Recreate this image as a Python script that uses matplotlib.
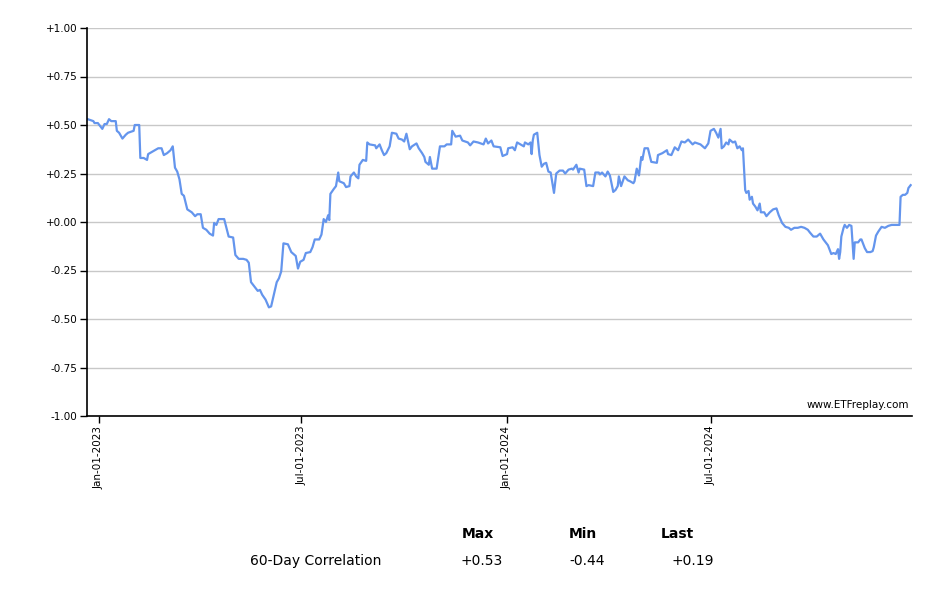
import matplotlib
matplotlib.use("Agg")
import matplotlib.pyplot as plt
import matplotlib.dates as mdates
import pandas as pd
import numpy as np

# ---- data (day offsets from 2023-01-01, 60-day correlation) ----
day_offsets = [
    -10, -5, -4, -1, 3, 5, 7, 9, 11, 15, 16, 18, 21, 24, 26, 31, 32, 36, 37, 40,
    43, 44, 47, 50, 53, 56, 58, 61, 64, 66, 68, 70, 72, 74, 76, 79, 83, 86, 88, 91,
    93, 96, 99, 102, 103, 105, 107, 110, 112, 116, 120, 122, 125, 129, 132, 134, 136, 140, 142, 144,
    146, 149, 152, 154, 156, 159, 161, 163, 165, 169, 172, 176, 178, 180,
    183, 185, 189, 191, 193, 197, 199, 201, 203, 205, 206, 207, 210, 212, 214, 215, 219, 221, 224, 225,
    228, 230, 232, 233, 236, 239, 240, 242, 247, 248, 251, 253, 255, 257, 260, 262, 266, 268, 271, 273,
    275, 278, 280, 284, 286, 289, 291, 292, 295, 296, 298, 302, 305, 309, 311, 315, 316, 319, 323, 325,
    330, 332, 335, 339, 344, 346, 348, 351, 353, 359,
    361, 365, 366, 370, 372, 374, 377, 380, 381, 384, 386, 387, 388, 389, 392, 394, 396, 398, 400, 402,
    404, 407, 409, 412, 415, 417, 420, 423, 424, 427, 429, 430, 434, 436, 438, 442, 444, 447, 448, 450,
    453, 455, 457, 460, 462, 464, 465, 467, 470, 473, 475, 478, 479, 481, 483, 485, 486, 488, 491, 494,
    499, 500, 504, 508, 509, 512, 515, 518, 521, 524, 527, 531, 533, 538, 542, 545, 547, 550, 552, 554,
    556, 557, 559, 561, 563, 564, 567, 569, 571, 573, 575, 576, 578, 579, 581, 582, 584, 585, 587, 589,
    591, 592, 595, 597, 600, 603, 606, 608, 611, 614, 617, 619, 622, 625, 628, 631, 634, 636, 639, 642,
    645, 648, 650, 652, 655, 657, 659, 661, 662, 663, 664, 666, 667, 669, 671, 673, 675, 676, 679, 681,
    682, 685, 687, 690, 692, 693, 695, 697, 700, 703, 706, 709, 712, 715, 716, 717, 719, 721, 723, 724,
    726,
]
correlation = [
    0.53, 0.52, 0.51, 0.51, 0.48, 0.505, 0.505, 0.53, 0.52, 0.52, 0.47, 0.46, 0.43, 0.45, 0.46, 0.47, 0.50, 0.50, 0.33, 0.33,
    0.32, 0.35, 0.36, 0.37, 0.38, 0.38, 0.345, 0.355, 0.37, 0.39, 0.28, 0.26, 0.22, 0.145, 0.135, 0.065, 0.05, 0.03, 0.04, 0.04,
    -0.03, -0.04, -0.06, -0.07, -0.005, -0.015, 0.015, 0.015, 0.015, -0.075, -0.08, -0.17, -0.19, -0.19, -0.195, -0.21, -0.31, -0.34, -0.355, -0.35,
    -0.375, -0.40, -0.44, -0.435, -0.385, -0.31, -0.29, -0.255, -0.11, -0.115, -0.155, -0.175, -0.24, -0.205,
    -0.195, -0.16, -0.155, -0.13, -0.09, -0.09, -0.065, 0.015, 0.0, 0.035, 0.01, 0.145, 0.17, 0.185, 0.255, 0.21, 0.20, 0.18, 0.185, 0.235,
    0.255, 0.235, 0.225, 0.295, 0.32, 0.315, 0.41, 0.40, 0.395, 0.38, 0.40, 0.37, 0.345, 0.355, 0.39, 0.46, 0.455, 0.43, 0.425, 0.415,
    0.455, 0.375, 0.39, 0.405, 0.38, 0.355, 0.335, 0.31, 0.295, 0.335, 0.275, 0.275, 0.39, 0.39, 0.40, 0.40, 0.47, 0.44, 0.445, 0.42,
    0.41, 0.395, 0.415, 0.41, 0.40, 0.43, 0.405, 0.42, 0.39, 0.385,
    0.34, 0.35, 0.38, 0.385, 0.37, 0.41, 0.40, 0.39, 0.41, 0.40, 0.41, 0.35, 0.42, 0.45, 0.46, 0.345, 0.285, 0.30, 0.305, 0.26,
    0.255, 0.15, 0.25, 0.265, 0.265, 0.25, 0.27, 0.275, 0.27, 0.295, 0.255, 0.275, 0.27, 0.185, 0.19, 0.185, 0.255, 0.255, 0.245, 0.255,
    0.235, 0.26, 0.24, 0.155, 0.165, 0.185, 0.235, 0.185, 0.235, 0.215, 0.21, 0.20, 0.21, 0.275, 0.24, 0.335, 0.32, 0.38, 0.38, 0.31,
    0.305, 0.345, 0.355, 0.37, 0.35, 0.345, 0.385, 0.37, 0.415, 0.41, 0.425, 0.40, 0.41, 0.40, 0.38, 0.405, 0.47, 0.48, 0.46, 0.435,
    0.48, 0.38, 0.39, 0.41, 0.40, 0.425, 0.41, 0.415, 0.38, 0.39, 0.37, 0.38, 0.165, 0.15, 0.16, 0.115, 0.13, 0.095, 0.08, 0.06,
    0.095, 0.05, 0.05, 0.03, 0.05, 0.065, 0.07, 0.035, -0.005, -0.025, -0.03, -0.04, -0.03, -0.03, -0.025, -0.03, -0.04, -0.055, -0.075, -0.075,
    -0.06, -0.09, -0.105, -0.12, -0.165, -0.16, -0.165, -0.14, -0.19, -0.155, -0.075, -0.03, -0.015, -0.03, -0.015, -0.02, -0.19, -0.105, -0.105, -0.09,
    -0.09, -0.135, -0.155, -0.155, -0.15, -0.13, -0.07, -0.05, -0.025, -0.03, -0.02, -0.015, -0.015, -0.015, -0.015, 0.13, 0.14, 0.14, 0.15, 0.175,
    0.19,
]
y_ticks = [1.0, 0.75, 0.5, 0.25, 0.0, -0.25, -0.5, -0.75, -1.0]
x_tick_dates = ["2023-01-01", "2023-07-01", "2024-01-01", "2024-07-01"]
series_label = "60-Day Correlation"
watermark = "www.ETFreplay.com"

base = pd.Timestamp("2023-01-01")
dates = base + pd.to_timedelta(day_offsets, unit="D")

fig = plt.figure(figsize=(9.4, 6.0), dpi=100)
W, H = 940, 600
ax = fig.add_axes([87 / W, (H - 416) / H, (912 - 87) / W, (416 - 28) / H])

ax.plot(dates, correlation, color="#6495ED", linewidth=1.6, solid_joinstyle="round")

ax.set_ylim(-1.0, 1.0)
ax.set_xlim(base - pd.Timedelta(days=10.7), base + pd.Timedelta(days=727.2))
ax.set_yticks(y_ticks)
ax.set_yticklabels([f"{v:+.2f}" if v != 0 else "+0.00" for v in y_ticks], fontsize=7.5)
ax.yaxis.grid(True, color="#c8c8c8", linewidth=1.0)
ax.set_axisbelow(True)

xt = [pd.Timestamp(d) for d in x_tick_dates]
ax.set_xticks(xt)
ax.set_xticklabels([t.strftime("%b-%d-%Y") for t in xt], rotation=90, fontsize=7.5)

for s in ["top", "right"]:
    ax.spines[s].set_visible(False)
ax.spines["left"].set_linewidth(1.2)
ax.spines["bottom"].set_linewidth(1.2)
ax.tick_params(axis="both", length=5, width=1.0, color="black", pad=2)

ax.text(0.996, 0.015, watermark, transform=ax.transAxes, ha="right", va="bottom", fontsize=7.5)

# summary table
vmax, vmin, vlast = max(correlation), min(correlation), correlation[-1]
ty1 = 1 - 534 / H
ty2 = 1 - 561 / H
fs = 10
fig.text(462 / W, ty1, "Max", fontsize=fs, fontweight="bold", ha="left", va="center")
fig.text(569 / W, ty1, "Min", fontsize=fs, fontweight="bold", ha="left", va="center")
fig.text(661 / W, ty1, "Last", fontsize=fs, fontweight="bold", ha="left", va="center")
fig.text(250 / W, ty2, series_label, fontsize=fs, ha="left", va="center")
fig.text(503 / W, ty2, f"{vmax:+.2f}", fontsize=fs, ha="right", va="center")
fig.text(605 / W, ty2, f"{vmin:+.2f}", fontsize=fs, ha="right", va="center")
fig.text(714 / W, ty2, f"{vlast:+.2f}", fontsize=fs, ha="right", va="center")

fig.savefig("out.png", dpi=100)
